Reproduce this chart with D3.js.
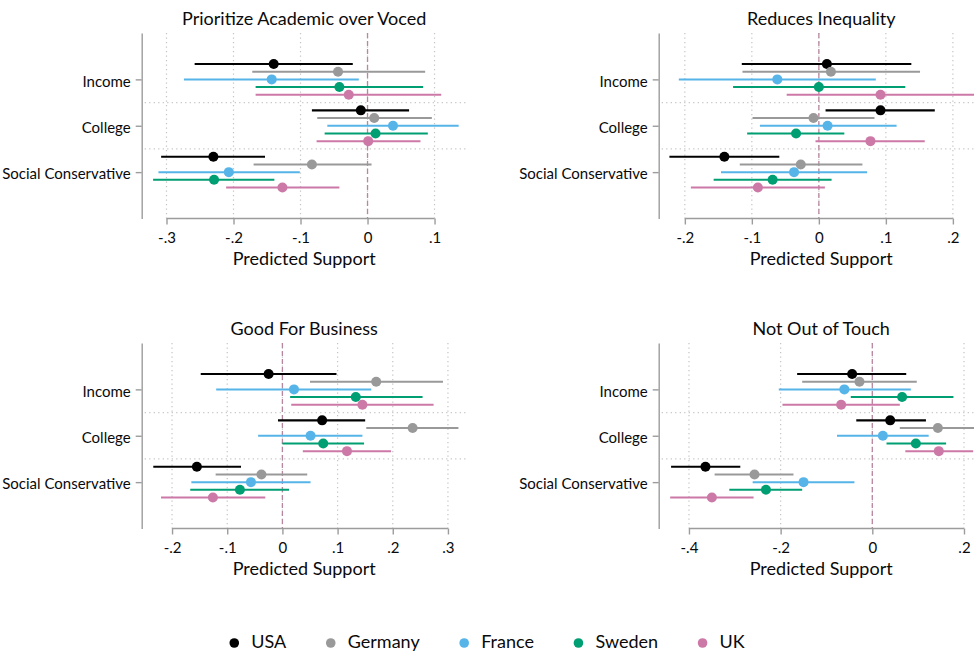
<!DOCTYPE html>
<html>
<head>
<meta charset="utf-8">
<script src="https://cdn.jsdelivr.net/npm/d3@7"></script>
<style>
  html, body { margin: 0; padding: 0; background: #fff; }
  svg { display: block; font-family: Lato, "Open Sans", sans-serif; }
</style>
</head>
<body>
<svg id="chart" width="974" height="652"></svg>
<script>
// ---------- data ----------
const countries = ["USA", "Germany", "France", "Sweden", "UK"];
const countryColors = ["#000000", "#999999", "#56B4E9", "#009E73", "#CC79A7"];
const predictors = ["Income", "College", "Social Conservative"];
const panelTitles = ["Prioritize Academic over Voced", "Reduces Inequality", "Good For Business", "Not Out of Touch"];

// rows: predictors (Income, College, Social Conservative); columns: countries
const academicEst = [
  [-0.140, -0.044, -0.143, -0.042, -0.028],
  [-0.010, 0.010, 0.038, 0.012, 0.001],
  [-0.230, -0.083, -0.207, -0.229, -0.127]
];
const academicLo = [
  [-0.258, -0.172, -0.274, -0.167, -0.167],
  [-0.083, -0.075, -0.060, -0.064, -0.076],
  [-0.308, -0.170, -0.312, -0.320, -0.211]
];
const academicHi = [
  [-0.022, 0.086, -0.013, 0.083, 0.110],
  [0.062, 0.096, 0.136, 0.090, 0.079],
  [-0.153, 0.006, -0.101, -0.139, -0.042]
];

const inequalityEst = [
  [0.012, 0.018, -0.062, 0.000, 0.092],
  [0.092, -0.008, 0.013, -0.034, 0.077],
  [-0.141, -0.027, -0.037, -0.069, -0.091]
];
const inequalityLo = [
  [-0.115, -0.114, -0.209, -0.128, -0.048],
  [0.010, -0.099, -0.088, -0.107, -0.005],
  [-0.223, -0.118, -0.146, -0.157, -0.191]
];
const inequalityHi = [
  [0.138, 0.151, 0.085, 0.129, 0.235],
  [0.173, 0.083, 0.116, 0.038, 0.158],
  [-0.059, 0.065, 0.072, 0.019, 0.009]
];

const businessEst = [
  [-0.025, 0.170, 0.021, 0.133, 0.145],
  [0.072, 0.236, 0.051, 0.074, 0.117],
  [-0.155, -0.038, -0.057, -0.077, -0.126]
];
const businessLo = [
  [-0.148, 0.050, -0.120, 0.014, 0.016],
  [-0.008, 0.152, -0.044, 0.000, 0.037],
  [-0.234, -0.121, -0.165, -0.167, -0.220]
];
const businessHi = [
  [0.098, 0.291, 0.161, 0.254, 0.274],
  [0.150, 0.319, 0.145, 0.148, 0.197],
  [-0.075, 0.045, 0.051, 0.012, -0.031]
];

const touchEst = [
  [-0.044, -0.028, -0.061, 0.065, -0.068],
  [0.039, 0.143, 0.023, 0.095, 0.145],
  [-0.364, -0.257, -0.150, -0.232, -0.350]
];
const touchLo = [
  [-0.164, -0.153, -0.204, -0.047, -0.196],
  [-0.035, 0.060, -0.077, 0.031, 0.072],
  [-0.439, -0.344, -0.261, -0.312, -0.441]
];
const touchHi = [
  [0.074, 0.097, 0.084, 0.177, 0.060],
  [0.117, 0.250, 0.123, 0.161, 0.220],
  [-0.288, -0.172, -0.039, -0.153, -0.259]
];

const ticksAcademic = [-0.3, -0.2, -0.1, 0, 0.1];
const tickLabelsAcademic = ["-.3", "-.2", "-.1", "0", ".1"];
const ticksInequality = [-0.2, -0.1, 0, 0.1, 0.2];
const tickLabelsInequality = ["-.2", "-.1", "0", ".1", ".2"];
const ticksBusiness = [-0.2, -0.1, 0, 0.1, 0.2, 0.3];
const tickLabelsBusiness = ["-.2", "-.1", "0", ".1", ".2", ".3"];
const ticksTouch = [-0.4, -0.2, 0, 0.2];
const tickLabelsTouch = ["-.4", "-.2", "0", ".2"];

// visible axis ranges of each plot region
const rangeAcademic = [-0.337, 0.148];
const rangeInequality = [-0.239, 0.246];
const rangeBusiness = [-0.255, 0.334];
const rangeTouch = [-0.466, 0.243];

const xTitle = "Predicted Support";

// ---------- layout ----------
const panels = [
  { title: panelTitles[0], est: academicEst, lo: academicLo, hi: academicHi, ticks: ticksAcademic, labels: tickLabelsAcademic, range: rangeAcademic, left: 141.7, top: 33 },
  { title: panelTitles[1], est: inequalityEst, lo: inequalityLo, hi: inequalityHi, ticks: ticksInequality, labels: tickLabelsInequality, range: rangeInequality, left: 658.7, top: 33 },
  { title: panelTitles[2], est: businessEst, lo: businessLo, hi: businessHi, ticks: ticksBusiness, labels: tickLabelsBusiness, range: rangeBusiness, left: 141.7, top: 343 },
  { title: panelTitles[3], est: touchEst, lo: touchLo, hi: touchHi, ticks: ticksTouch, labels: tickLabelsTouch, range: rangeTouch, left: 658.7, top: 343 }
];
const plotW = 325, plotH = 185.5;
const offsetStep = 0.166;
const axisColor = "#9c9c9c";
const gridColor = "#c4c4c4";
const zeroColor = "#b8879f";
const textColor = "#0a0a0a";

const svg = d3.select("#chart");

panels.forEach(p => {
  const g = svg.append("g").attr("transform", `translate(${p.left},${p.top})`);
  const x = d3.scaleLinear().domain(p.range).range([0, plotW]);
  const y = d3.scaleLinear().domain([0, 4]).range([0, plotH]);

  // vertical dotted grid
  g.append("g").selectAll("line").data(p.ticks).join("line")
    .attr("x1", d => x(d)).attr("x2", d => x(d))
    .attr("y1", 0).attr("y2", plotH)
    .attr("stroke", gridColor).attr("stroke-width", 1.2)
    .attr("stroke-dasharray", "1.2,3.3");

  // horizontal separators
  g.append("g").selectAll("line").data([1.5, 2.5]).join("line")
    .attr("x1", 3).attr("x2", plotW)
    .attr("y1", d => y(d)).attr("y2", d => y(d))
    .attr("stroke", gridColor).attr("stroke-width", 1.2)
    .attr("stroke-dasharray", "1.2,3.3");

  // zero line
  g.append("line")
    .attr("x1", x(0)).attr("x2", x(0)).attr("y1", 0).attr("y2", plotH)
    .attr("stroke", zeroColor).attr("stroke-width", 1.3)
    .attr("stroke-dasharray", "5,3");

  // data
  const rows = [];
  p.est.forEach((row, pi) => row.forEach((v, ci) => {
    rows.push({ pi, ci, est: v, lo: p.lo[pi][ci], hi: p.hi[pi][ci] });
  }));
  const yPos = d => y(d.pi + 1 + (d.ci - 2) * offsetStep);

  g.append("g").selectAll("line").data(rows).join("line")
    .attr("x1", d => x(d.lo)).attr("x2", d => x(d.hi))
    .attr("y1", yPos).attr("y2", yPos)
    .attr("stroke", d => countryColors[d.ci])
    .attr("stroke-width", d => d.ci === 0 ? 2.2 : 2);

  g.append("g").selectAll("circle").data(rows).join("circle")
    .attr("cx", d => x(d.est)).attr("cy", yPos).attr("r", 5)
    .attr("fill", d => countryColors[d.ci]);

  // y axis
  const yAxis = g.append("g").call(
    d3.axisLeft(y).tickValues([1, 2, 3]).tickFormat(d => predictors[d - 1])
      .tickSizeInner(6).tickSizeOuter(0).tickPadding(5));
  yAxis.select(".domain").attr("stroke", axisColor).attr("stroke-width", 1.4);
  yAxis.selectAll(".tick line").attr("stroke", axisColor).attr("stroke-width", 1.4);
  yAxis.selectAll(".tick text").attr("font-size", 15).attr("fill", textColor)
    .attr("font-family", "Lato, sans-serif").attr("dy", "0.45em");

  // x axis
  const xAxis = g.append("g").attr("transform", `translate(0,${plotH})`).call(
    d3.axisBottom(x).tickValues(p.ticks).tickFormat((d, i) => p.labels[i])
      .tickSizeInner(6).tickSizeOuter(0).tickPadding(8));
  xAxis.select(".domain")
    .attr("d", `M${x(p.ticks[0])},0H${x(p.ticks[p.ticks.length - 1])}`)
    .attr("stroke", axisColor).attr("stroke-width", 1.4);
  xAxis.selectAll(".tick line").attr("stroke", axisColor).attr("stroke-width", 1.4);
  xAxis.selectAll(".tick text").attr("font-size", 15).attr("fill", textColor)
    .attr("font-family", "Lato, sans-serif");

  // axis title
  g.append("text")
    .attr("x", plotW / 2).attr("y", plotH + 46.5)
    .attr("text-anchor", "middle").attr("font-size", 18).attr("fill", textColor)
    .text(xTitle);

  // panel title
  g.append("text")
    .attr("x", plotW / 2).attr("y", -8)
    .attr("text-anchor", "middle").attr("font-size", 18).attr("fill", textColor)
    .text(p.title);
});

// ---------- legend ----------
const legendGap = 44.5, keyGap = 17;
const legend = svg.append("g");
const items = legend.selectAll("g").data(countries).join("g");
items.append("circle").attr("r", 4.8).attr("cy", -5).attr("fill", (d, i) => countryColors[i]);
items.append("text").attr("x", keyGap).attr("font-size", 18).attr("fill", textColor).text(d => d);
let cursor = 0;
items.each(function () {
  const w = this.querySelector("text").getComputedTextLength();
  this.setAttribute("data-x", cursor);
  cursor += keyGap + w + legendGap;
});
const total = cursor - legendGap + 5;
const start = 487 - total / 2 + 5;
items.each(function () {
  const cx = +this.getAttribute("data-x");
  d3.select(this).attr("transform", `translate(${start + cx},648)`);
});
</script>
</body>
</html>
